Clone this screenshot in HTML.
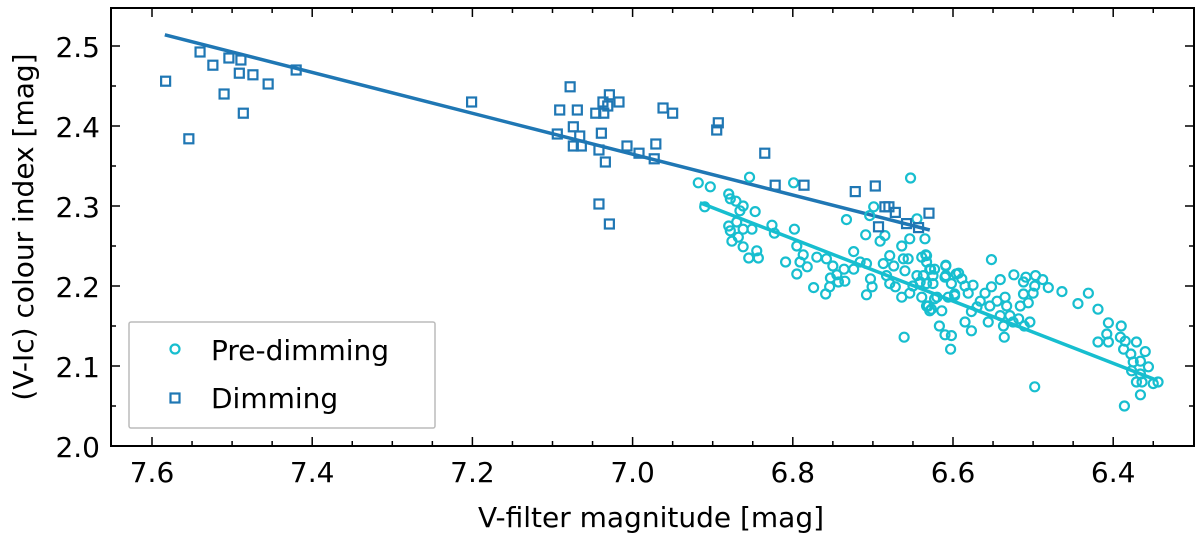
<!DOCTYPE html>
<html><head><meta charset="utf-8"><style>
html,body{margin:0;padding:0;background:#fff;}
svg{display:block;font-family:"DejaVu Sans","Liberation Sans",sans-serif;}
</style></head><body>
<svg id="chart" width="1200" height="538" viewBox="0 0 1200 538" xmlns="http://www.w3.org/2000/svg">
<g id="marks"></g><g id="axes"></g>
</svg>
<script>
const xTicks=[7.6,7.4,7.2,7.0,6.8,6.6,6.4];
const xTickLabels=["7.6","7.4","7.2","7.0","6.8","6.6","6.4"];
const yTicks=[2.0,2.1,2.2,2.3,2.4,2.5];
const yTickLabels=["2.0","2.1","2.2","2.3","2.4","2.5"];
const preMag=[6.918,6.903,6.854,6.799,6.653,6.880,6.878,6.871,6.862,6.866,6.847,6.910,6.880,6.878,6.870,6.862,6.851,6.876,6.868,6.862,6.855,6.843,6.845,6.826,6.823,6.798,6.795,6.809,6.787,6.791,6.782,6.795,6.774,6.770,6.758,6.750,6.753,6.745,6.736,6.735,6.754,6.759,6.743,6.724,6.724,6.716,6.708,6.733,6.709,6.704,6.699,6.691,6.685,6.703,6.701,6.708,6.687,6.679,6.674,6.683,6.679,6.672,6.664,6.654,6.635,6.662,6.656,6.660,6.645,6.637,6.639,6.633,6.628,6.625,6.650,6.641,6.633,6.625,6.664,6.654,6.639,6.631,6.627,6.614,6.620,6.609,6.609,6.602,6.596,6.606,6.598,6.617,6.610,6.602,6.603,6.661,6.645,6.634,6.633,6.629,6.623,6.609,6.610,6.593,6.589,6.585,6.575,6.598,6.581,6.552,6.541,6.552,6.560,6.566,6.570,6.577,6.585,6.577,6.629,6.633,6.623,6.554,6.545,6.535,6.533,6.541,6.529,6.556,6.537,6.536,6.524,6.512,6.509,6.497,6.488,6.481,6.498,6.500,6.512,6.506,6.516,6.518,6.504,6.511,6.525,6.464,6.444,6.431,6.419,6.406,6.408,6.419,6.406,6.390,6.391,6.385,6.371,6.387,6.378,6.360,6.375,6.366,6.356,6.377,6.366,6.371,6.364,6.350,6.344,6.366,6.386,6.498];
const preColour=[2.329,2.324,2.336,2.329,2.335,2.315,2.309,2.306,2.300,2.294,2.293,2.299,2.275,2.269,2.280,2.271,2.271,2.256,2.261,2.249,2.235,2.235,2.244,2.276,2.266,2.271,2.250,2.230,2.239,2.230,2.224,2.215,2.198,2.236,2.234,2.225,2.210,2.214,2.221,2.206,2.199,2.190,2.205,2.243,2.221,2.230,2.228,2.283,2.264,2.288,2.299,2.256,2.263,2.209,2.199,2.189,2.228,2.238,2.225,2.213,2.203,2.199,2.250,2.259,2.259,2.234,2.234,2.219,2.213,2.213,2.236,2.238,2.221,2.213,2.200,2.205,2.203,2.203,2.186,2.191,2.186,2.175,2.171,2.169,2.186,2.225,2.213,2.203,2.215,2.186,2.188,2.150,2.139,2.138,2.121,2.136,2.284,2.239,2.230,2.221,2.221,2.226,2.211,2.216,2.209,2.200,2.201,2.190,2.191,2.233,2.208,2.199,2.191,2.181,2.174,2.168,2.155,2.144,2.169,2.175,2.184,2.175,2.181,2.186,2.175,2.163,2.163,2.155,2.150,2.136,2.214,2.205,2.211,2.213,2.208,2.198,2.200,2.191,2.190,2.179,2.175,2.159,2.155,2.150,2.155,2.193,2.178,2.191,2.171,2.154,2.140,2.130,2.130,2.150,2.136,2.131,2.130,2.121,2.115,2.118,2.105,2.106,2.099,2.094,2.090,2.080,2.080,2.078,2.080,2.064,2.050,2.074];
const dimMag=[7.583,7.540,7.524,7.504,7.489,7.491,7.474,7.455,7.510,7.486,7.554,7.420,7.201,7.078,7.091,7.069,7.046,7.037,7.029,7.031,7.036,7.017,6.962,6.950,7.094,7.074,7.066,7.074,7.064,7.039,7.042,7.034,7.007,6.992,6.971,6.973,7.042,7.029,6.893,6.895,6.835,6.822,6.786,6.722,6.697,6.685,6.680,6.672,6.693,6.658,6.643,6.630];
const dimColour=[2.456,2.4925,2.476,2.485,2.4825,2.466,2.464,2.4525,2.44,2.416,2.384,2.47,2.43,2.449,2.42,2.42,2.416,2.43,2.439,2.425,2.416,2.43,2.4225,2.416,2.39,2.399,2.3875,2.375,2.375,2.391,2.37,2.355,2.375,2.366,2.3775,2.359,2.3025,2.2775,2.404,2.395,2.366,2.326,2.326,2.318,2.325,2.299,2.299,2.292,2.274,2.278,2.273,2.291];
const dimFitMag=[7.584,6.629];
const dimFitColour=[2.514,2.27];
const preFitMag=[6.916,6.345];
const preFitColour=[2.304,2.082];

const NS="http://www.w3.org/2000/svg";
const L=111,R=1194,T=8,B=446;
function sx(v){return 152+(7.6-v)*801;}
function sy(v){return 446-(v-2.0)*800;}
function el(tag,attrs,parent){const e=document.createElementNS(NS,tag);for(const k in attrs)e.setAttribute(k,attrs[k]);parent.appendChild(e);return e;}
const marks=document.getElementById('marks'),axes=document.getElementById('axes');
const PRE="#17becf",DIM="#1f77b4";
let fl=el('line',{x1:sx(dimFitMag[0]),y1:sy(dimFitColour[0]),x2:sx(dimFitMag[1]),y2:sy(dimFitColour[1]),stroke:DIM,'stroke-width':3.5},marks);


let pl=el('line',{x1:sx(preFitMag[0]),y1:sy(preFitColour[0]),x2:sx(preFitMag[1]),y2:sy(preFitColour[1]),stroke:PRE,'stroke-width':3.5},marks);


for(let i=0;i<preMag.length;i++){
 const c=el('circle',{cx:sx(preMag[i]),cy:sy(preColour[i]),r:4.5,fill:'none',stroke:PRE,'stroke-width':2.2},marks);
 
 
}
for(let i=0;i<dimMag.length;i++){
 const s=el('rect',{x:sx(dimMag[i])-4.5,y:sy(dimColour[i])-4.5,width:9,height:9,fill:'none',stroke:DIM,'stroke-width':2.2},marks);
 
 
}
const fr=el('rect',{x:L,y:T,width:R-L,height:B-T,fill:'none',stroke:'#000','stroke-width':2},axes);


for(let k=-2;k<=30;k++){
 const v=7.6-k*0.05; const x=sx(v); if(x<=L+1||x>=R-1)continue;
 const major=k%4===0; const len=major?9:5;
 el('line',{x1:x,y1:B,x2:x,y2:B-len,stroke:'#000','stroke-width':1.5},axes);
 el('line',{x1:x,y1:T,x2:x,y2:T+len,stroke:'#000','stroke-width':1.5},axes);
}
xTicks.forEach((v,i)=>{
 const t=el('text',{x:sx(v),y:482,'font-size':28,'text-anchor':'middle',fill:'#000'},axes);
 t.textContent=xTickLabels[i];
 
 
});
for(let k=0;k<=11;k++){
 const v=2.0+k*0.05; const y=sy(v); if(y<T+1||y>=B-1)continue;
 const major=k%2===0; const len=major?9:5;
 el('line',{x1:L,y1:y,x2:L+len,y2:y,stroke:'#000','stroke-width':1.5},axes);
 el('line',{x1:R,y1:y,x2:R-len,y2:y,stroke:'#000','stroke-width':1.5},axes);
}
yTicks.forEach((v,i)=>{
 const t=el('text',{x:100,y:sy(v)+11,'font-size':28,'text-anchor':'end',fill:'#000'},axes);
 t.textContent=yTickLabels[i];
 
 
});
const xt=el('text',{x:651,y:527,'font-size':28,'text-anchor':'middle',fill:'#000'},axes);
xt.textContent='V-filter magnitude [mag]';


const yt=el('text',{x:0,y:0,'font-size':28,'text-anchor':'middle',fill:'#000',transform:'translate(33,227) rotate(-90)'},axes);
yt.textContent='(V-Ic) colour index [mag]';


const lg=el('g',{},axes);


el('rect',{x:129,y:322,width:306,height:106,fill:'#fff',stroke:'#bbb','stroke-width':1.5,rx:2},lg);
el('circle',{cx:175,cy:349,r:4.5,fill:'none',stroke:PRE,'stroke-width':2.2},lg);
el('rect',{x:170.5,y:393.5,width:9,height:9,fill:'none',stroke:DIM,'stroke-width':2.2},lg);
const l1=el('text',{x:211,y:360,'font-size':28,fill:'#000'},lg);
l1.textContent='Pre-dimming';


const l2=el('text',{x:211,y:408,'font-size':28,fill:'#000'},lg);
l2.textContent='Dimming';


</script>
</body></html>
